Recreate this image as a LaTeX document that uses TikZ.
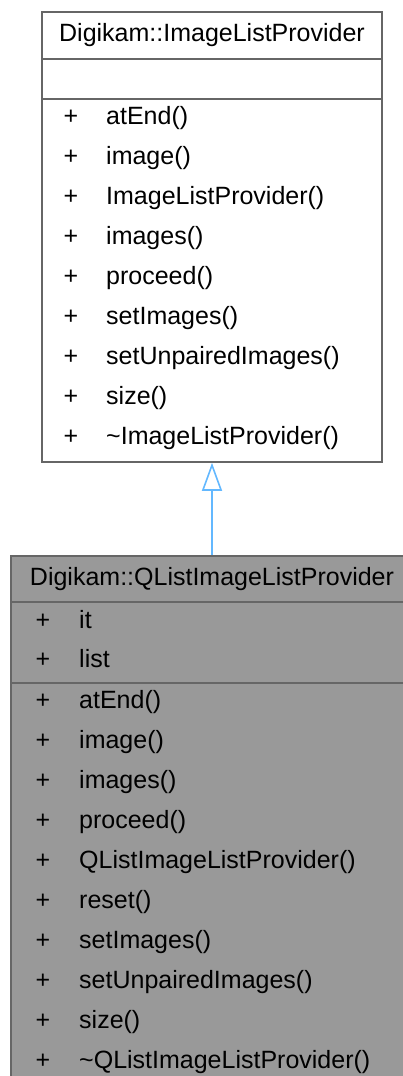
\documentclass[tikz,border=0pt]{standalone}
\usepackage{fontspec}
\setmainfont{Liberation Sans}
\usepackage{tikz}
\usepackage{xcolor}
\usetikzlibrary{arrows.meta}

\definecolor{boxline}{HTML}{666666}
\definecolor{derivedfill}{HTML}{999999}
\definecolor{inheritblue}{HTML}{63B8FF}

\tikzset{
  classpart/.style={draw=boxline, line width=1.6pt, rectangle, inner sep=0pt},
  member/.style={anchor=west, inner sep=0pt, text height=18pt, text depth=5pt},
  plus/.style={anchor=center, inner sep=0pt, text height=18pt, text depth=5pt},
  inherit/.style={draw=inheritblue, line width=1.6pt,
    -{Triangle[open, width=20pt, length=28pt, line width=1.6pt]}}
}

\begin{document}
\begin{tikzpicture}[x=1pt, y=-1pt, font=\fontsize{25}{30}\selectfont]
  \useasboundingbox (0,0) rectangle (403,1076);
  % --- base class ------------------------------------------------------
  \node[classpart, fill=white, minimum width=340pt, minimum height=47pt]
       (baseTitle) at (212,35.5) {Digikam::ImageListProvider};
  \node[classpart, fill=white, minimum width=340pt, minimum height=40pt]
       (baseAttr) at (212,79) {};
  \node[classpart, fill=white, minimum width=340pt, minimum height=363pt]
       (baseOps) at (212,280.5) {};
  \foreach \op [count=\i from 0] in {atEnd(), image(), ImageListProvider(),
      images(), proceed(), setImages(), setUnpairedImages(), size(),
      \textasciitilde ImageListProvider()}{
    \node[plus] (baseOpPlus\i) at (71,118+40*\i) {+};
    \node[member] (baseOp\i) at (106,118+40*\i) {\op};
  }
  % --- derived class ---------------------------------------------------
  \node[classpart, fill=derivedfill, minimum width=402pt, minimum height=46pt]
       (derivedTitle) at (212,579) {Digikam::QListImageListProvider};
  \node[classpart, fill=derivedfill, minimum width=402pt, minimum height=81pt]
       (derivedAttr) at (212,642.5) {};
  \node[classpart, fill=derivedfill, minimum width=402pt, minimum height=400pt]
       (derivedOps) at (212,883) {};
  \foreach \at [count=\i from 0] in {it, list}{
    \node[plus] (derivedAttrPlus\i) at (43,622+39*\i) {+};
    \node[member] (derivedAttr\i) at (79,622+39*\i) {\at};
  }
  \foreach \op [count=\i from 0] in {atEnd(), image(), images(), proceed(),
      QListImageListProvider(), reset(), setImages(), setUnpairedImages(),
      size(), \textasciitilde QListImageListProvider()}{
    \node[plus] (derivedOpPlus\i) at (43,702+40*\i) {+};
    \node[member] (derivedOp\i) at (79,702+40*\i) {\op};
  }
  % --- generalisation --------------------------------------------------
  \draw[inherit] (derivedTitle.north) -- (baseOps.south);
\end{tikzpicture}
\end{document}
